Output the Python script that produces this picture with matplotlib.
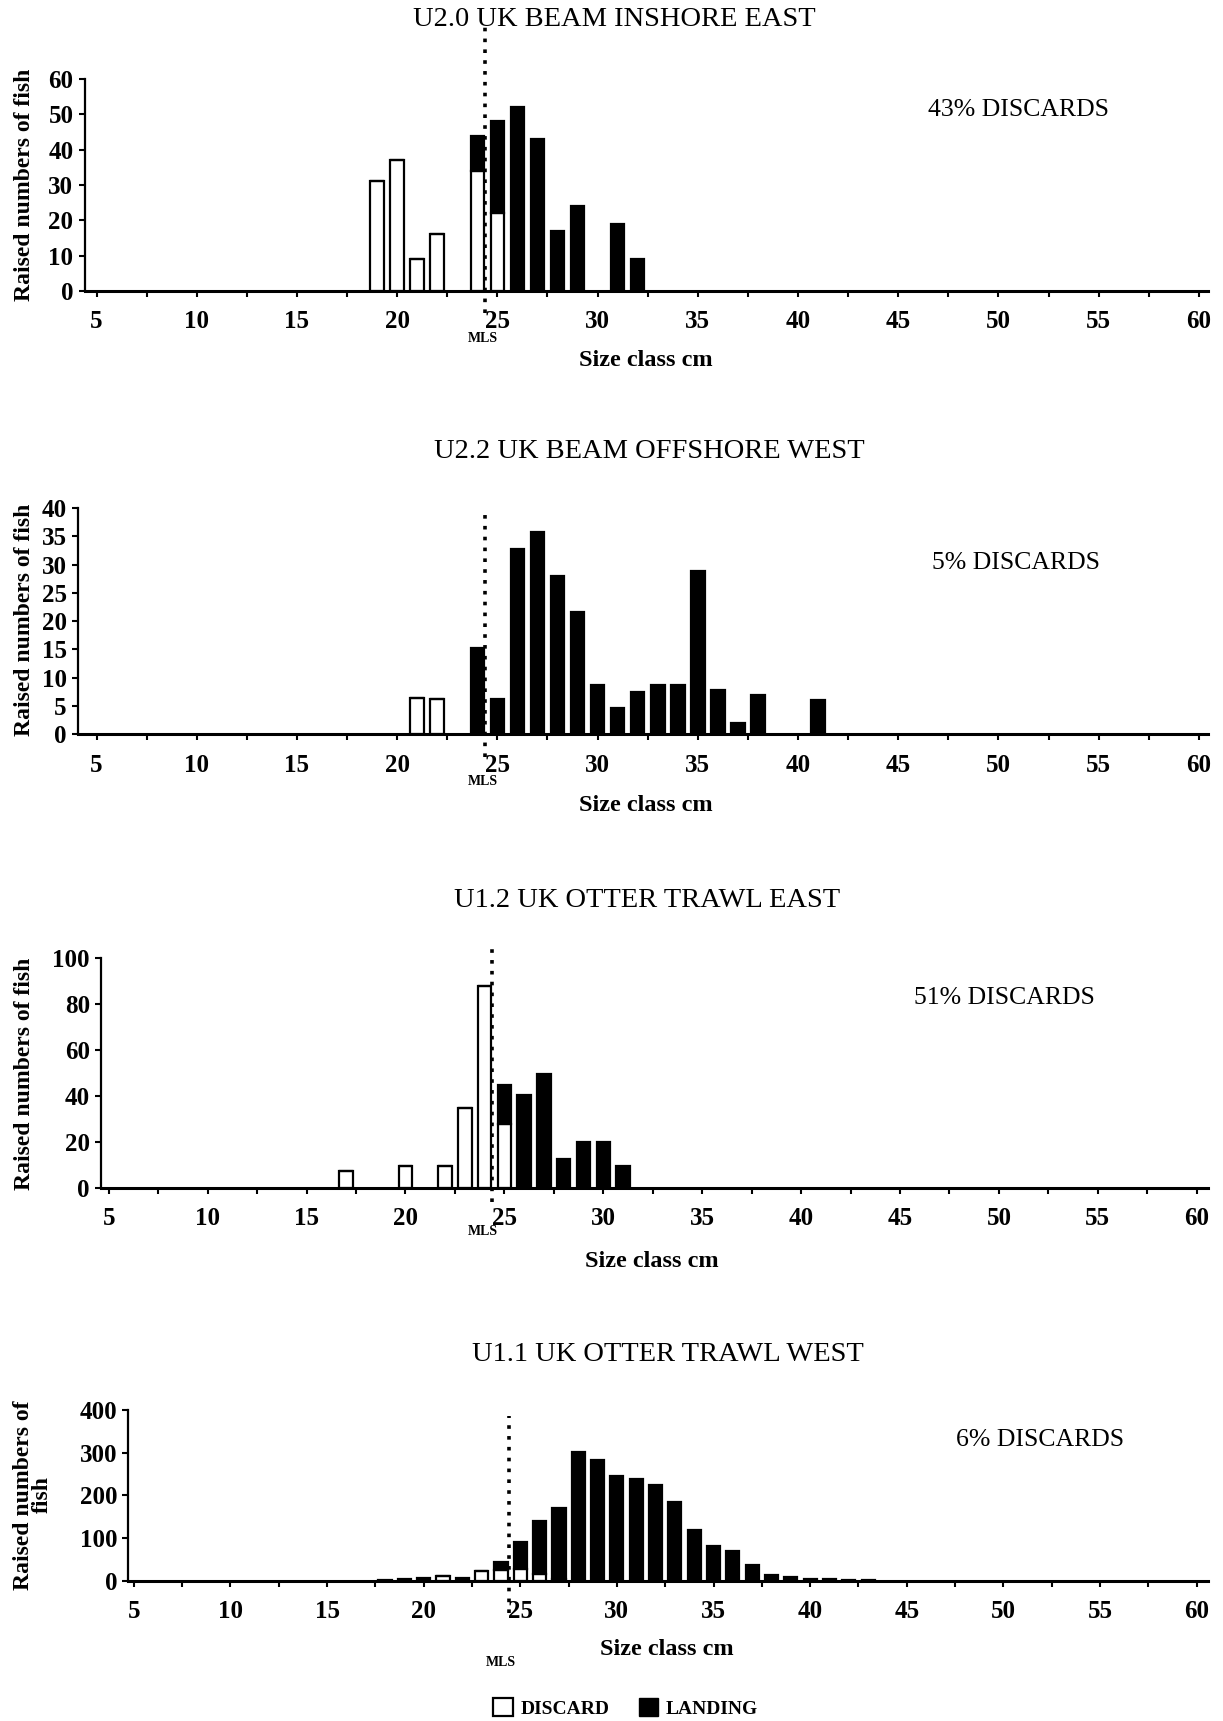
import numpy as np
import matplotlib.pyplot as plt
from matplotlib.patches import Patch

plt.rcParams['font.family'] = 'serif'
plt.rcParams['font.serif'] = ['Liberation Serif', 'DejaVu Serif']

# Panel 1 - U2.0 UK beam inshore east
size1 = [19, 20, 21, 22, 24, 25, 26, 27, 28, 29, 31, 32]
discard1 = [31, 37, 9, 16, 34, 22, 0, 0, 0, 0, 0, 0]
landing1 = [0, 0, 0, 0, 10, 26, 52, 43, 17, 24, 19, 9]

# Panel 2 - U2.2 UK beam offshore west
size2 = [21, 22, 24, 25, 26, 27, 28, 29, 30, 31, 32, 33, 34, 35, 36, 37, 38, 41]
discard2 = [6.5, 6.3, 0, 0, 0, 0, 0, 0, 0, 0, 0, 0, 0, 0, 0, 0, 0, 0]
landing2 = [0, 0, 15.3, 6.2, 32.8, 35.7, 28, 21.7, 8.8, 4.6, 7.4, 8.8, 8.8, 28.8, 7.8, 2.0, 6.9, 6.0]

# Panel 3 - U1.2 UK otter trawl east
size3 = [17, 20, 22, 23, 24, 25, 26, 27, 28, 29, 30, 31]
discard3 = [7.4, 9.6, 9.6, 34.8, 87.9, 27.5, 0, 0, 0, 0, 0, 0]
landing3 = [0, 0, 0, 0, 0, 17.2, 40.2, 49.6, 12.5, 19.9, 19.9, 9.6]

# Panel 4 - U1.1 UK otter trawl west
size4 = [18, 19, 20, 21, 22, 23, 24, 25, 26, 27, 28, 29, 30, 31, 32, 33, 34, 35,
         36, 37, 38, 39, 40, 41, 42, 43]
discard4 = [0, 0, 0, 10.5, 0, 22, 24, 28, 16, 4, 0, 0, 0, 0, 0, 0, 0, 0,
            0, 0, 0, 0, 0, 0, 0, 0]
landing4 = [2, 3, 5, 0, 5.7, 0, 19, 62, 124, 166, 301, 284, 245, 238, 224, 184, 118, 80,
            70, 37, 12, 9, 3, 3, 1, 1]

titles = ['U2.0 UK BEAM INSHORE EAST', 'U2.2 UK BEAM OFFSHORE WEST',
          'U1.2 UK OTTER TRAWL EAST', 'U1.1 UK OTTER TRAWL WEST']
discard_pct = ['43% DISCARDS', '5% DISCARDS', '51% DISCARDS', '6% DISCARDS']
mls = 24.4

W, H = 1114, 1568  # reference coords used for placement


def fx(x):
    return x / W


def fy(y):
    return 1 - y / H


fig = plt.figure(figsize=(12.23, 17.21), dpi=100)

# (left, right, top, bottom) in reference pixels, xlim, ylim, yticks, mls line extent
panels = [
    dict(box=(77, 1100, 72, 265), xlim=(4.40, 60.44), ymax=60, yticks=np.arange(0, 61, 10),
         dots=(-6.2, 74.6), sizes=size1, disc=discard1, land=landing1,
         title=(560, 18), xlab=(588, 328), mlsxy=(440, 308), pct=(928, 100), ylab=(22, 168)),
    dict(box=(71, 1100, 463, 669), xlim=(4.07, 60.44), ymax=40, yticks=np.arange(0, 41, 5),
         dots=(-4.1, 40), sizes=size2, disc=discard2, land=landing2,
         title=(591, 411), xlab=(588, 734), mlsxy=(440, 712), pct=(925, 513), ylab=(22, 565)),
    dict(box=(92, 1100, 873, 1082), xlim=(4.61, 60.55), ymax=100, yticks=np.arange(0, 101, 20),
         dots=(-6.2, 105), sizes=size3, disc=discard3, land=landing3,
         title=(589, 820), xlab=(594, 1149), mlsxy=(440, 1122), pct=(915, 909), ylab=(22, 978)),
    dict(box=(117, 1100, 1285, 1440), xlim=(4.72, 60.57), ymax=400, yticks=np.arange(0, 401, 100),
         dots=(-77, 387), sizes=size4, disc=discard4, land=landing4,
         title=(608, 1234), xlab=(607, 1503), mlsxy=(456, 1515), pct=(947, 1312), ylab=(30, 1362)),
]

for i, p in enumerate(panels):
    l, r, t, b = p['box']
    ax = fig.add_axes([fx(l), fy(b), fx(r) - fx(l), fy(t) - fy(b)])

    # stacked bars: discard at the bottom, landing on top
    ax.bar(p['sizes'], p['disc'], width=0.68, color='white', edgecolor='black', linewidth=1.6)
    ax.bar(p['sizes'], p['land'], bottom=p['disc'], width=0.68, color='black',
           edgecolor='black', linewidth=1.6)

    # minimum landing size line
    ax.plot([mls, mls], list(p['dots']), color='black', linestyle=(0, (1, 2)),
            linewidth=2.6, clip_on=False, zorder=5)

    ax.set_xlim(*p['xlim'])
    ax.set_ylim(0, p['ymax'])
    ax.set_xticks(np.arange(5, 61, 5))
    ax.set_xticks(np.arange(7.5, 60, 5), minor=True)
    ax.set_yticks(p['yticks'])
    ax.spines['top'].set_visible(False)
    ax.spines['right'].set_visible(False)
    ax.spines['left'].set_linewidth(1.6)
    ax.spines['bottom'].set_linewidth(2.2)
    ax.tick_params(axis='x', which='both', direction='out', length=4, width=1.5, pad=10)
    ax.tick_params(axis='y', direction='out', length=4, width=1.5, pad=4)
    for lab in ax.get_xticklabels() + ax.get_yticklabels():
        lab.set_fontsize(18)
        lab.set_fontweight('bold')

    fig.text(fx(p['title'][0]), fy(p['title'][1]), titles[i], ha='center', va='center',
             fontsize=20.5)
    fig.text(fx(p['xlab'][0]), fy(p['xlab'][1]), 'Size class cm', ha='center', va='center',
             fontsize=17.5, fontweight='bold')
    fig.text(fx(p['mlsxy'][0]), fy(p['mlsxy'][1]), 'MLS', ha='center', va='center',
             fontsize=10, fontweight='bold')
    fig.text(fx(p['pct'][0]), fy(p['pct'][1]), discard_pct[i], ha='center', va='center',
             fontsize=18.5)
    ylabel = 'Raised numbers of\nfish' if i == 3 else 'Raised numbers of fish'
    fig.text(fx(p['ylab'][0]), fy(p['ylab'][1]), ylabel, ha='center', va='center',
             rotation=90, fontsize=17, fontweight='bold', linespacing=0.9)

handles = [Patch(facecolor='white', edgecolor='black', linewidth=1.6, label='DISCARD'),
           Patch(facecolor='black', edgecolor='black', label='LANDING')]
fig.legend(handles=handles, loc='center', bbox_to_anchor=(fx(570), fy(1556)), ncol=2,
           frameon=False, prop={'size': 14, 'weight': 'bold'}, handlelength=1.0,
           handleheight=1.0, handletextpad=0.4, columnspacing=1.5)

fig.savefig('out.png', dpi=100)
